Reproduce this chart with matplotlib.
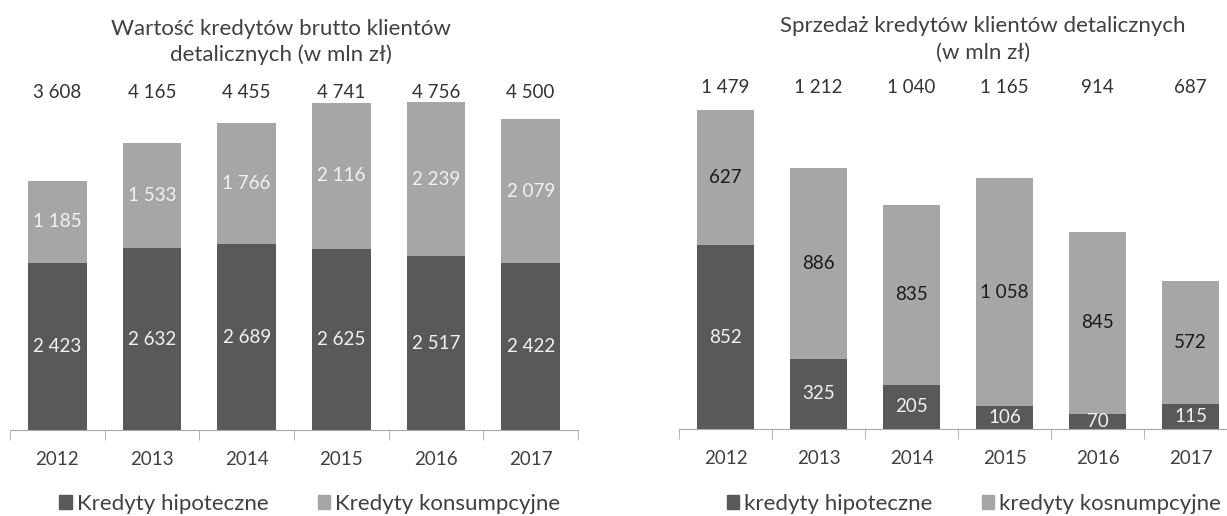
import matplotlib
matplotlib.use("Agg")
import matplotlib.pyplot as plt
from matplotlib.patches import Patch

# dane
lata = ["2012", "2013", "2014", "2015", "2016", "2017"]

# wykres lewy - wartość kredytów brutto
hipoteczne_l = [2423, 2632, 2689, 2625, 2517, 2422]
konsumpcyjne_l = [1185, 1533, 1766, 2116, 2239, 2079]
razem_l = [3608, 4165, 4455, 4741, 4756, 4500]

# wykres prawy - sprzedaż kredytów
hipoteczne_p = [852, 325, 205, 106, 70, 115]
konsumpcyjne_p = [627, 886, 835, 1058, 845, 572]
razem_p = [1479, 1212, 1040, 1165, 914, 687]

CIEMNY = "#595959"
JASNY = "#a6a6a6"
TEKST = "#404040"
OS = "#a6a6a6"

plt.rcParams["font.family"] = ["Lato", "DejaVu Sans"]
plt.rcParams["font.size"] = 13.5

W, H = 1227, 516
FS_TXT = 16  # tytuły i legendy


def fmt(v):
    return f"{v:,}".replace(",", " ")


def rysuj(ax, hip, kons, razem, ymax, y_razem, kolor_kons, szer):
    x = list(range(len(lata)))
    ax.bar(x, hip, width=szer, color=CIEMNY)
    ax.bar(x, kons, width=szer, bottom=hip, color=JASNY)
    for i in x:
        ax.text(i, hip[i] / 2, fmt(hip[i]), ha="center", va="center", color="#f2f2f2")
        ax.text(i, hip[i] + kons[i] / 2, fmt(kons[i]), ha="center", va="center",
                color=kolor_kons)
        ax.text(i, y_razem, fmt(razem[i]), ha="center", va="center", color="#333333")
    ax.set_xlim(-0.5, len(lata) - 0.5)
    ax.set_ylim(0, ymax)
    for s in ["top", "left", "right"]:
        ax.spines[s].set_visible(False)
    ax.spines["bottom"].set_color(OS)
    ax.set_yticks([])
    ax.set_xticks(x)
    ax.set_xticklabels(lata, color=TEKST)
    ax.tick_params(axis="x", which="major", length=0, pad=15)
    ax.set_xticks([i - 0.5 for i in range(len(lata) + 1)], minor=True)
    ax.tick_params(axis="x", which="minor", length=7, color=OS, direction="out")


fig = plt.figure(figsize=(W / 100, H / 100), dpi=100)

ax1 = fig.add_axes([10 / W, (H - 430) / H, 568 / W, 345 / H])
rysuj(ax1, hipoteczne_l, konsumpcyjne_l, razem_l, 5000, 4890, "#f2f2f2", 0.62)

ax2 = fig.add_axes([679 / W, (H - 429) / H, 558 / W, 345 / H])
rysuj(ax2, hipoteczne_p, konsumpcyjne_p, razem_p, 1600, 1585, "#1a1a1a", 0.613)

# tytuły
fig.text(281 / W, 1 - 29 / H, "Wartość kredytów brutto klientów", ha="center", va="center",
         color=TEKST, fontsize=FS_TXT)
fig.text(281 / W, 1 - 55 / H, "detalicznych (w mln zł)", ha="center", va="center",
         color=TEKST, fontsize=FS_TXT)
fig.text(983 / W, 1 - 26 / H, "Sprzedaż kredytów klientów detalicznych", ha="center", va="center",
         color=TEKST, fontsize=FS_TXT)
fig.text(983 / W, 1 - 53 / H, "(w mln zł)", ha="center", va="center", color=TEKST, fontsize=FS_TXT)

# legendy
for cx, etykiety in [(310, ["Kredyty hipoteczne", "Kredyty konsumpcyjne"]),
                     (974, ["kredyty hipoteczne", "kredyty kosnumpcyjne"])]:
    uchwyty = [Patch(color=CIEMNY), Patch(color=JASNY)]
    leg = fig.legend(uchwyty, etykiety, loc="center", bbox_to_anchor=(cx / W, 1 - 504 / H),
                     ncol=2, frameon=False, handlelength=0.55, handleheight=0.55,
                     handletextpad=0.25, columnspacing=2.2, fontsize=FS_TXT)
    for t in leg.get_texts():
        t.set_color(TEKST)

fig.savefig("out.png", dpi=100)
